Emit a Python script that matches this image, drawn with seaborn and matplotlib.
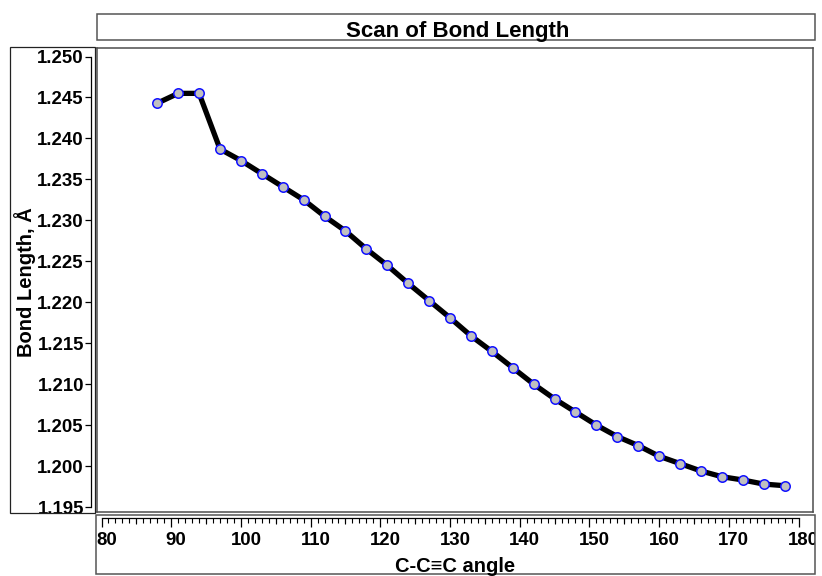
import matplotlib
matplotlib.use("Agg")
import matplotlib.pyplot as plt
import seaborn as sns
import pandas as pd
from matplotlib.patches import Rectangle
from matplotlib.ticker import MultipleLocator, FixedLocator
from matplotlib.transforms import ScaledTranslation, Bbox, TransformedBbox

# ---- data ----
angle = [88, 91, 94, 97, 100, 103, 106, 109, 112, 115, 118, 121, 124, 127, 130,
         133, 136, 139, 142, 145, 148, 151, 154, 157, 160, 163, 166, 169, 172, 175, 178]
bond = [1.2443, 1.2455, 1.2455, 1.2387, 1.2373, 1.2357, 1.2341, 1.2325, 1.2305, 1.2287,
        1.2265, 1.2245, 1.2223, 1.2202, 1.2181, 1.2159, 1.2140, 1.2120, 1.2100, 1.2082,
        1.2066, 1.2050, 1.2036, 1.2025, 1.2012, 1.2003, 1.1994, 1.1987, 1.1983, 1.1978, 1.1976]
x_ticks = [80, 90, 100, 110, 120, 130, 140, 150, 160, 170, 180]
y_ticks = [1.195, 1.200, 1.205, 1.210, 1.215, 1.220, 1.225, 1.230, 1.235, 1.240, 1.245, 1.250]
title = "Scan of Bond Length"
xlabel = "C-C\u2261C angle"
ylabel = "Bond Length, \u00c5"

df = pd.DataFrame({"angle": angle, "bond": bond})

sns.set_theme(style="white")
plt.rcParams["font.family"] = ["Liberation Sans", "DejaVu Sans"]

W, H = 822, 576
fig = plt.figure(figsize=(W / 100, H / 100), dpi=100)
fig.patch.set_facecolor("white")


def fr(x0, y0, x1, y1):
    return [x0 / W, 1 - y1 / H, (x1 - x0) / W, (y1 - y0) / H]


def box(x0, y0, x1, y1, color, lw):
    fig.patches.append(Rectangle((x0 / W, 1 - y1 / H), (x1 - x0) / W, (y1 - y0) / H,
                                 transform=fig.transFigure, fill=False,
                                 edgecolor=color, linewidth=lw, zorder=0))


# pixel mapping of scales
px80, px180 = 101.5, 798.5
ppx = (px180 - px80) / 100.0
py1250, py1195 = 56.5, 507.0
ppy = (py1195 - py1250) / 0.055

# ---- boxes ----
box(96.5, 14, 815, 39.5, "#555555", 1.1)     # title box
box(10.0, 46.5, 95, 513, "#222222", 0.9)     # y axis box
box(95.7, 514.5, 815, 573.5, "#555555", 1.1)  # x axis box

# ---- main plot ----
mx0, my0, mx1, my1 = 96.5, 47.5, 813.3, 512
ax = fig.add_axes(fr(mx0, my0, mx1, my1))
ax.set_facecolor("white")
sns.lineplot(data=df, x="angle", y="bond", ax=ax, color="black", linewidth=3.8,
             marker="o", markersize=6.8, markerfacecolor="#c0c0c0",
             markeredgecolor="#1010ff", markeredgewidth=1.1)
ax.set_xlim(80 - (px80 - mx0) / ppx, 80 + (mx1 - px80) / ppx)
ax.set_ylim(1.195 - (my1 - py1195) / ppy, 1.250 + (py1250 - my0) / ppy)
ax.set_xticks([])
ax.set_yticks([])
ax.set_xlabel("")
ax.set_ylabel("")
for s in ax.spines.values():
    s.set_visible(True)
    s.set_color("#4d4d4d")
    s.set_linewidth(1.1)

# ---- y axis ----
ay = fig.add_axes(fr(91, py1250, 92, py1195))
ay.patch.set_alpha(0)
ay.set_ylim(1.195, 1.250)
ay.set_xticks([])
ay.yaxis.set_major_locator(FixedLocator(y_ticks))
ay.set_yticklabels([f"{v:.3f}" for v in y_ticks], fontweight="bold")
for k in ["top", "right", "bottom"]:
    ay.spines[k].set_visible(False)
ay.spines["left"].set_color("black")
ay.spines["left"].set_linewidth(0.9)
ay.tick_params(axis="y", which="major", direction="out", length=4.3, width=0.9,
               color="black", labelsize=13.4, pad=0.8, labelcolor="black", left=True)

# ---- x axis ----
axx = fig.add_axes(fr(px80, 517, px180, 518))
axx.patch.set_alpha(0)
axx.set_xlim(80, 180)
axx.set_yticks([])
axx.xaxis.set_major_locator(FixedLocator(x_ticks))
axx.set_xticklabels([str(v) for v in x_ticks], fontweight="bold")
axx.xaxis.set_minor_locator(MultipleLocator(1))
for k in ["top", "right", "left"]:
    axx.spines[k].set_visible(False)
axx.spines["bottom"].set_color("black")
axx.spines["bottom"].set_linewidth(0.9)
axx.tick_params(axis="x", which="major", direction="out", length=6.2, width=0.9,
                color="black", labelsize=13.4, pad=4.0, labelcolor="black", bottom=True)
axx.tick_params(axis="x", which="minor", direction="out", length=3.3, width=0.8,
                color="black", bottom=True)

axm = fig.add_axes(fr(px80, 517, px180, 518))
axm.patch.set_alpha(0)
axm.set_xlim(80, 180)
axm.set_yticks([])
axm.xaxis.set_major_locator(FixedLocator([85, 95, 105, 115, 125, 135, 145, 155, 165, 175]))
axm.set_xticklabels([])
for s in axm.spines.values():
    s.set_visible(False)
axm.tick_params(axis="x", which="major", direction="out", length=4.6, width=0.8,
                color="black", bottom=True)

off = ScaledTranslation(5 / 100, 0, fig.dpi_scale_trans)
clip = TransformedBbox(Bbox.from_extents(95.7 / W, 1 - 573.5 / H, 815 / W, 1 - 514.5 / H),
                       fig.transFigure)
for t in axx.xaxis.get_major_ticks():
    t.label1.set_transform(t.label1.get_transform() + off)
    t.label1.set_clip_box(clip)
    t.label1.set_clip_on(True)

# ---- texts ----
fig.text(458 / W, 1 - 37 / H, title, ha="center", va="baseline",
         fontsize=16, fontweight="bold", color="black")
fig.text(455 / W, 1 - 571.5 / H, xlabel, ha="center", va="baseline",
         fontsize=14.5, fontweight="bold", color="black")
fig.text(25 / W, 1 - 282 / H, ylabel, ha="center", va="center", rotation=90,
         fontsize=14.5, fontweight="bold", color="black")

fig.savefig("out.png", dpi=100, facecolor="white")
